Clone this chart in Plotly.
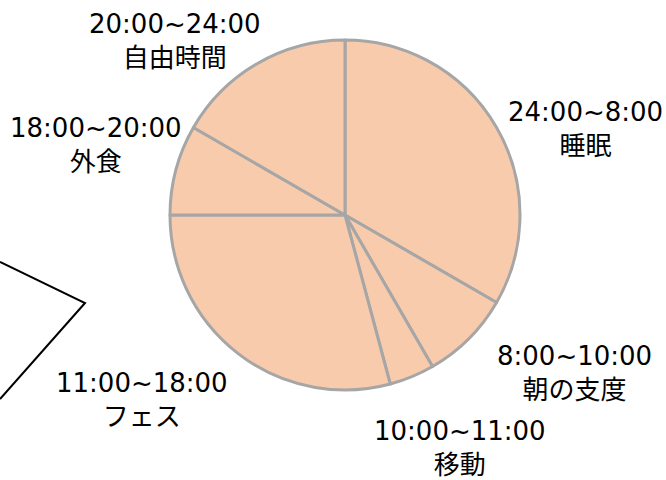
import plotly.graph_objects as go

# Data
time_ranges = ["24:00~8:00", "8:00~10:00", "10:00~11:00", "11:00~18:00", "18:00~20:00", "20:00~24:00"]
activities = ["睡眠", "朝の支度", "移動", "フェス", "外食", "自由時間"]
hours = [8, 2, 1, 7, 2, 4]

# Decorative partial outline on the left edge (pixel coordinates)
deco_x = [0, 85, 0]
deco_y = [262, 303, 399]

# Label centres (pixel coordinates) for each slice
label_x = [585, 574, 460, 142, 96, 175]
label_y = [129, 373, 448, 400, 145, 41]

W, H = 666, 480
FONT = "DejaVu Sans, Noto Sans CJK JP, sans-serif"

fig = go.Figure()

fig.add_trace(go.Pie(
    values=hours,
    labels=activities,
    sort=False,
    direction="clockwise",
    rotation=0,
    textinfo="none",
    hoverinfo="label+value",
    marker=dict(colors=["#F8CBAD"] * len(hours), line=dict(color="#A6A6A6", width=3)),
    domain=dict(x=[170 / W, 520 / W], y=[1 - 390 / H, 1 - 40 / H]),
    showlegend=False,
))

fig.add_trace(go.Scatter(
    x=deco_x, y=deco_y, mode="lines",
    line=dict(color="black", width=2),
    hoverinfo="skip", showlegend=False,
    xaxis="x", yaxis="y",
))

annotations = []
for tr, act, lx, ly in zip(time_ranges, activities, label_x, label_y):
    annotations.append(dict(
        x=lx / W, y=1 - ly / H, xref="paper", yref="paper",
        text=f"{tr}<br>{act}", showarrow=False,
        xanchor="center", yanchor="middle", align="center",
        font=dict(family=FONT, size=26, color="black"),
    ))

fig.update_layout(
    width=W, height=H,
    margin=dict(l=0, r=0, t=0, b=0),
    paper_bgcolor="white", plot_bgcolor="rgba(0,0,0,0)",
    xaxis=dict(range=[0, W], visible=False, fixedrange=True),
    yaxis=dict(range=[H, 0], visible=False, fixedrange=True),
    annotations=annotations,
    font=dict(family=FONT),
)

fig.write_html(
    "out.html",
    config={"displayModeBar": False},
    post_script="document.body.style.margin='0';document.body.style.padding='0';",
)
